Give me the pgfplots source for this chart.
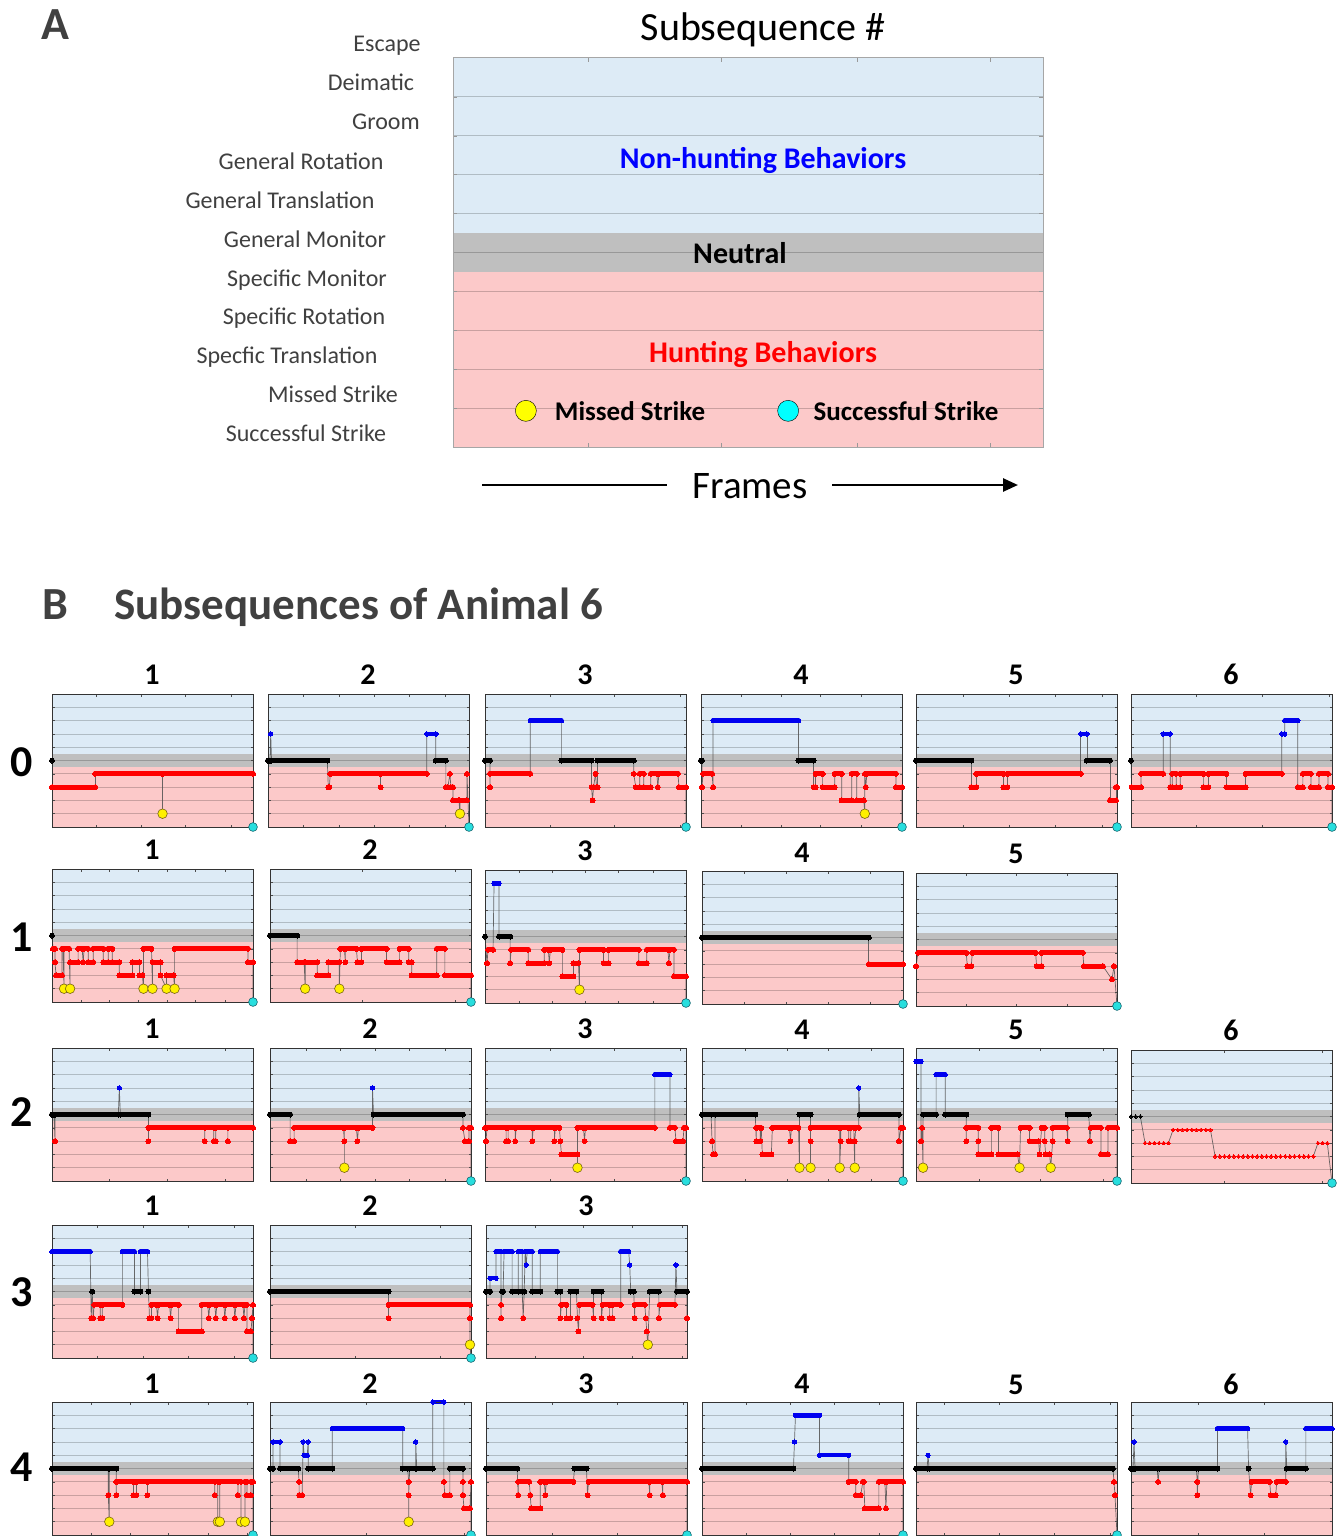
\documentclass[border=0pt]{standalone}
\usepackage{fontspec}
\setmainfont{Carlito}
\usepackage{pgfplots}
\pgfplotsset{compat=1.18}
\usepackage{pgfplotstable}
\usetikzlibrary{arrows.meta}

\definecolor{bgblue}{RGB}{221,235,246}
\definecolor{bggray}{RGB}{191,191,191}
\definecolor{bgpink}{RGB}{252,201,201}
\definecolor{txtgray}{RGB}{64,64,64}
\definecolor{connc}{RGB}{80,80,80}
\definecolor{runred}{RGB}{255,0,0}
\definecolor{runblue}{RGB}{0,0,240}
\definecolor{runblack}{RGB}{0,0,0}
\definecolor{legyellow}{RGB}{255,255,0}
\definecolor{legcyan}{RGB}{0,255,255}
\definecolor{missc}{RGB}{255,240,0}
\definecolor{missedge}{RGB}{120,100,20}
\definecolor{hitc}{RGB}{40,222,222}
\definecolor{hitedge}{RGB}{20,100,110}

\newcommand\fs[1]{\fontsize{#1}{#1}\selectfont}

% ---------- behaviour sequences (x = frame position 0..200, y = behaviour level) ----------
% levels: 10 Escape ... 6 General Translation, 5 General Monitor, 4..2 specific, 1 missed, 0 successful
\pgfplotstableread{
x y
0 5
0 3
43 3
43 4
110 4
110 1
110 4
200 4
200 0
}\sZa
\pgfplotstableread{
x y
0 5
2 5
2.7 7
3.5 5
59 5
60 3
61 3
62 4
112 4
112 3
112 4
158 4
158 7
167 7
167 5
177 5
177 3
179 3
181 4
182 3
184 3
184 2
190 2
191 1
191 2
198 2
198 4
200 0
}\sZb
\pgfplotstableread{
x y
0 5
5 5
5 3
5 4
45 4
45 8
76 8
76 5
106 5
106 3
107 2
108 3
110 4
111 3
112 3
112 5
148 5
148 4
150 3
154 3
154 4
158 4
158 3
165 3
165 4
171 4
172 3
173 4
192 4
193 3
200 3
200 0
}\sZc
\pgfplotstableread{
x y
0 5
1 5
1 3
2 4
11 4
12 3
12 8
97 8
97 5
112 5
112 3
114 3
114 4
121 4
121 3
133 3
133 4
140 4
140 2
150 2
150 4
155 4
155 2
162 2
163 1
163 4
164 3
165 4
194 4
194 3
200 3
200 0
}\sZd
\pgfplotstableread{
x y
0 5
55 5
55 3
60 3
60 4
87 4
87 3
91 3
91 4
164 4
164 7
170 7
170 5
193 5
193 2
199 2
199 3
200 3
200 0
}\sZe
\pgfplotstableread{
x y
0 5
0.5 3
10 3
10 4
32 4
32 7
39 7
39 3
41 3
41 4
45 4
45 3
49 3
49 4
72 4
72 3
77 3
77 4
95 4
95 3
114 3
114 4
150 4
150 7
153 7
153 8
166 8
166 3
171 3
171 4
179 4
179 3
187 3
187 4
196 4
196 3
200 3
200 0
}\sZf
\pgfplotstableread{
x y
0 5
1 4
3 4
3 3
4 2
10 2
10 4
11 4
12 1
12 4
17 4
18 1
18 3
26 3
26 4
30 4
31 3
32 4
36 4
36 3
41 3
41 4
51 4
51 3
56 3
56 4
60 4
60 3
67 3
67 2
80 2
80 3
87 3
87 2
90 2
91 1
91 4
99 4
100 1
100 3
108 3
108 2
114 1
114 2
121 2
122 1
122 4
195 4
195 3
200 3
200 0
}\sOa
\pgfplotstableread{
x y
0 5
27 5
27 3
34 3
35 1
35 3
47 3
47 2
58 2
58 3
69 3
69 1
70 4
74 4
75 3
75 4
86 4
87 3
91 3
91 4
116 4
116 3
129 3
129 4
138 4
138 3
141 3
141 2
166 2
166 4
174 4
174 2
200 2
200 0
}\sOb
\pgfplotstableread{
x y
0 5
2 3
3 4
8 4
9 9
14 9
14 5
25 5
25 3
26 4
43 4
43 3
59 3
59 4
63 4
64 3
65 4
77 4
77 2
88 2
88 3
93 3
94 1
94 4
118 4
118 3
123 3
123 4
153 4
153 3
161 3
161 4
182 4
183 3
184 4
188 4
188 2
200 2
200 0
}\sOc
\pgfplotstableread{
x y
0 5
166 5
166 3
200 3
200 0
}\sOd
\pgfplotstableread{
x y
0 3
2 4
50 4
51 3
55 3
56 4
119 4
120 3
125 3
125 4
166 4
167 3
186 3
195 2
197 3
200 0
}\sOe
\pgfplotstableread{
x y
0 5
2 5
3 3
3 5
66 5
67 7
68 5
96 5
96 3
96 4
152 4
152 3
152 4
161 4
161 3
163 3
163 4
175 4
175 3
175 4
200 4
}\sTa
\pgfplotstableread{
x y
0 5
20 5
20 3
24 3
24 4
73 4
74 3
74 1
74 4
86 4
87 3
88 4
102 4
102 7
103 5
192 5
192 4
194 3
198 3
198 4
200 4
200 0
}\sTb
\pgfplotstableread{
x y
0 4
1 3
2 4
21 4
21 3
23 3
23 4
30 4
30 3
31 4
47 4
47 3
48 4
69 4
69 3
70 4
74 4
75 3
76 2
92 2
92 1
92 4
98 4
99 3
100 4
169 4
169 8
184 8
184 4
189 4
190 3
197 3
198 4
200 4
200 0
}\sTc
\pgfplotstableread{
x y
0 5
9 5
10 3
11 2
13 2
13 5
53 5
54 3
54 4
58 4
58 3
59 4
60 2
69 2
70 4
87 4
88 3
89 4
96 4
97 1
97 5
108 5
108 1
108 3
108 4
137 4
137 1
138 3
138 4
146 4
146 3
148 3
148 4
151 4
152 1
152 3
153 4
156 4
156 7
157 5
196 5
196 3
198 4
200 4
200 0
}\sTd
\pgfplotstableread{
x y
0 9
5 9
5 3
6 4
7 1
7 5
20 5
20 8
29 8
29 5
50 5
50 3
50 4
62 4
62 3
62 2
75 2
75 4
82 4
82 2
101 2
103 1
104 4
113 4
113 3
122 3
123 2
125 4
128 4
128 3
129 2
133 2
134 1
136 3
136 4
150 4
151 3
151 5
172 5
173 3
174 4
184 4
184 2
191 2
191 4
200 4
200 0
}\sTe
\pgfplotstableread{
x y
0 5
4.65 5
9.3 5
13.95 3
18.6 3
23.25 3
27.9 3
32.55 3
37.2 3
41.85 4
46.5 4
51.15 4
55.8 4
60.45 4
65.1 4
69.75 4
74.4 4
79.05 4
83.7 2
88.35 2
93 2
97.65 2
102.3 2
106.95 2
111.6 2
116.25 2
120.9 2
125.55 2
130.2 2
134.85 2
139.5 2
144.15 2
148.8 2
153.45 2
158.1 2
162.75 2
167.4 2
172.05 2
176.7 2
181.35 2
186 3
190.65 3
195.3 3
200 0
}\sTf
\pgfplotstableread{
x y
0 8
38 8
39 3
40 5
41 3
42 4
48 4
48 3
50 3
50 4
70 4
70 8
82 8
82 5
88 5
88 8
95 8
96 5
97 3
99 3
99 4
104 4
105 3
106 4
117 4
118 3
119 4
126 4
126 2
149 2
149 4
155 4
156 3
157 4
162 4
163 3
164 4
171 4
172 3
173 4
181 4
182 3
183 4
190 4
191 3
192 4
194 4
194 2
198 2
199 3
200 4
200 0
}\sHa
\pgfplotstableread{
x y
0 5
118 5
118 3
118 4
199 4
199 3
199 1
200 0
}\sHb
\pgfplotstableread{
x y
0 5
4 5
4 6
10 6
10 8
15 8
15 3
15 4
16 5
17 5
18 8
26 8
26 5
32 5
32 8
36 8
36 5
37 3
38 5
39 8
40 7
41 8
46 8
46 5
54 5
54 8
71 8
71 5
74 5
74 3
75 4
80 4
80 3
84 3
84 5
90 5
91 3
92 2
93 4
106 4
107 3
107 5
115 5
115 3
116 4
123 4
123 3
126 3
126 4
134 4
134 8
142 8
143 7
144 5
147 5
148 3
148 4
158 4
159 3
160 2
161 1
163 5
172 5
172 3
173 4
188 4
189 7
190 5
200 5
200 3
}\sHc
\pgfplotstableread{
x y
0 5
56 5
56 3
57 1
57 5
64 5
64 3
64 4
81 4
81 3
84 3
84 4
95 4
95 3
95 4
162 4
162 3
162 4
165 4
165 1
167 1
167 4
185 4
185 3
185 4
188 4
188 1
192 1
192 4
194 4
194 3
198 3
198 4
200 4
200 0
}\sFa
\pgfplotstableread{
x y
0 5
3 5
3 7
10 7
10 5
28 5
29 4
29 3
32 3
33 7
34 6
37 6
38 7
38 5
62 5
62 8
132 8
132 5
137 5
138 4
138 1
138 3
139 5
145 5
145 7
146 5
162 5
162 10
173 10
173 4
174 3
179 3
179 5
192 5
192 4
192 3
193 2
199 2
200 4
200 0
}\sFb
\pgfplotstableread{
x y
0 5
31 5
32 3
32 4
43 4
44 3
45 2
54 2
54 4
58 4
59 3
60 4
87 4
88 5
100 5
101 3
102 4
162 4
163 3
163 4
175 4
176 3
176 4
200 4
200 0
}\sFc
\pgfplotstableread{
x y
0 5
91 5
92 7
93 9
117 9
117 6
146 6
146 4
153 4
153 3
158 3
160 4
161 4
162 2
176 2
176 4
182 4
183 2
184 4
200 4
200 0
}\sFd
\pgfplotstableread{
x y
0 5
11 5
12 6
13 5
196 5
197 4
198 3
200 0
}\sFe
\pgfplotstableread{
x y
0 5
2 5
3 7
4 5
26 5
27 4
28 5
65 5
66 4
66 3
67 5
86 5
86 8
116 8
117 5
119 3
120 4
138 4
139 3
144 3
145 4
154 4
154 7
155 5
174 5
174 8
200 8
}\sFf

\pgfplotsset{
  sub/.style={anchor=north west, scale only axis, width=201pt, height=133pt,
    xmin=0, xmax=200, ymin=0, ymax=10, ytick={1,...,9},
    yticklabels={}, xticklabels={}, tick align=inside, major tick length=2.5pt,
    tick style={black!70, line width=0.5pt},
    axis line style={black!80, line width=0.9pt},
    axis on top, clip=false, unbounded coords=jump},
  conn/.style={color=connc, line width=0.7pt, opacity=0.85},
  run/.style 2 args={color=#1, line width=#2, line cap=round, line join=round,
    mark=*, mark size=0.5*#2, mark options={fill=#1, draw=#1, line width=0pt}},
  miss/.style={only marks, mark=*, mark size=4.8pt,
    mark options={fill=missc, draw=missedge, line width=0.6pt}},
  hit/.style={only marks, mark=*, mark size=4.4pt,
    mark options={fill=hitc, draw=hitedge, line width=0.6pt}},
  gridl/.style={black, opacity=0.2, line width=0.8pt},
}

% shaded behaviour bands and level lines
\newcommand\bgrid{%
  \addplot[draw=none, fill=bgblue] coordinates {(0,5.5) (200,5.5) (200,10) (0,10)};
  \addplot[draw=none, fill=bggray] coordinates {(0,4.5) (200,4.5) (200,5.5) (0,5.5)};
  \addplot[draw=none, fill=bgpink] coordinates {(0,0) (200,0) (200,4.5) (0,4.5)};
  \addplot[gridl] coordinates {(0,1) (200,1) (200,nan) (0,2) (200,2) (200,nan)
    (0,3) (200,3) (200,nan) (0,4) (200,4) (200,nan) (0,5) (200,5) (200,nan)
    (0,6) (200,6) (200,nan) (0,7) (200,7) (200,nan) (0,8) (200,8) (200,nan)
    (0,9) (200,9)};
}

% one behaviour sequence: thin connecting trace, then coloured runs per level
\newcommand\seq[1]{%
  \addplot[conn] table {#1};
  \addplot[run={runred}{5pt}, restrict y to domain=1.9:2.1] table {#1};
  \addplot[run={runred}{5pt}, restrict y to domain=2.9:3.1] table {#1};
  \addplot[run={runred}{5pt}, restrict y to domain=3.9:4.1] table {#1};
  \addplot[run={runblack}{5pt}, restrict y to domain=4.9:5.1] table {#1};
  \addplot[run={runblue}{4.4pt}, restrict y to domain=5.9:6.1] table {#1};
  \addplot[run={runblue}{4.4pt}, restrict y to domain=6.9:7.1] table {#1};
  \addplot[run={runblue}{4.4pt}, restrict y to domain=7.9:8.1] table {#1};
  \addplot[run={runblue}{4.4pt}, restrict y to domain=8.9:9.1] table {#1};
  \addplot[run={runblue}{4.4pt}, restrict y to domain=9.9:10.1] table {#1};
  \addplot[miss, restrict y to domain=0.9:1.1] table {#1};
  \addplot[hit, restrict y to domain=-0.1:0.1] table {#1};
}

% frame-by-frame sequence drawn as separate dots
\newcommand\seqdots[1]{%
  \addplot[conn] table {#1};
  \addplot[only marks, mark=*, mark size=1.8pt, mark options={fill=runred, draw=runred, line width=0pt}, restrict y to domain=1.5:4.5] table {#1};
  \addplot[only marks, mark=*, mark size=1.8pt, mark options={fill=runblack, draw=runblack, line width=0pt}, restrict y to domain=4.5:5.5] table {#1};
  \addplot[hit, restrict y to domain=-0.1:0.1] table {#1};
}

\newcommand\subplot[4]{%
  \begin{axis}[sub, at={(#1pt,-#2pt)}, xtick={#3}]
    \bgrid
    \seq{#4}
  \end{axis}}

\newcommand\ttl[3]{\node[anchor=base, font=\fs{30}\bfseries] at (#1pt,-#2pt) {#3};}
\newcommand\rowl[2]{\node[anchor=base, font=\fs{44}\bfseries] at (22pt,-#1pt) {#2};}
\newcommand\blab[3]{\node[anchor=base, font=\fs{24}, text=txtgray] at (#1pt,-#2pt) {#3};}

\begin{document}
\begin{tikzpicture}
\path[use as bounding box] (0,0) rectangle (1343pt,-1536pt);

% ---------------- panel A ----------------
\node[anchor=base, font=\fs{46}\bfseries, text=txtgray] at (55pt,-40pt) {A};
\node[anchor=base, font=\fs{40}] at (763pt,-41pt) {Subsequence \#};
\blab{387}{52}{Escape}
\blab{371}{91}{Deimatic}
\blab{386}{130}{Groom}
\blab{301}{169}{General Rotation}
\blab{280}{208}{General Translation}
\blab{305}{247}{General Monitor}
\blab{307}{286}{Specific Monitor}
\blab{304}{324}{Specific Rotation}
\blab{287}{363}{Specfic Translation}
\blab{333}{402}{Missed Strike}
\blab{306}{441}{Successful Strike}

\begin{axis}[sub, at={(453pt,-58pt)}, width=590pt, height=389pt,
  xtick={46,91,137,182}, major tick length=4pt,
  axis line style={black!35, line width=1pt}, tick style={black!40, line width=0.6pt}]
  \bgrid
  \addplot[only marks, mark=*, mark size=10.5pt, mark options={fill=legyellow, draw=none}]
    coordinates {(24.7,0.93)};
  \addplot[only marks, mark=*, mark size=10.5pt, mark options={fill=legcyan, draw=none}]
    coordinates {(113.6,0.93)};
\end{axis}
\node[anchor=base, font=\fs{30}\bfseries, text=blue] at (763pt,-168pt) {Non-hunting Behaviors};
\node[anchor=base, font=\fs{30}\bfseries] at (740pt,-263pt) {Neutral};
\node[anchor=base, font=\fs{30}\bfseries, text=red] at (763pt,-362pt) {Hunting Behaviors};
\node[anchor=base, font=\fs{27}\bfseries] at (630pt,-420pt) {Missed Strike};
\node[anchor=base, font=\fs{27}\bfseries] at (906pt,-420pt) {Successful Strike};

\draw[line width=2.6pt] (482pt,-485pt) -- (667pt,-485pt);
\draw[line width=2.6pt, -{Triangle[length=15pt,width=13pt]}] (832pt,-485pt) -- (1018pt,-485pt);
\node[anchor=base, font=\fs{39}] at (750pt,-498pt) {Frames};

% ---------------- panel B ----------------
\node[anchor=base, font=\fs{46}\bfseries, text=txtgray] at (55pt,-619pt) {B};
\node[anchor=base west, font=\fs{45}\bfseries, text=txtgray] at (111pt,-619pt) {Subsequences of Animal 6};

% row 0
\ttl{152}{684}{1}\ttl{368}{684}{2}\ttl{585}{684}{3}\ttl{801}{684}{4}\ttl{1016}{684}{5}\ttl{1231}{684}{6}
\rowl{776}{0}
\subplot{52}{694}{44,89,133,178}{\sZa}
\subplot{268}{694}{35,71,106,141,176}{\sZb}
\subplot{485}{694}{65,129,194}{\sZc}
\subplot{701}{694}{40,80,119,159}{\sZd}
\subplot{916}{694}{47,93,139,185}{\sZe}
\subplot{1131}{694}{65,131,197}{\sZf}

% row 1
\ttl{152}{859}{1}\ttl{370}{859}{2}\ttl{585}{860}{3}\ttl{802}{862}{4}\ttl{1016}{863}{5}
\rowl{951}{1}
\subplot{52}{869}{29,57,86,115,143,172}{\sOa}
\subplot{270}{869}{92,184}{\sOb}
\subplot{485}{870}{34,67,100,133,167}{\sOc}
\subplot{702}{871}{42,84,126,167}{\sOd}
\subplot{916}{873}{50,100,150}{\sOe}

% row 2
\ttl{152}{1038}{1}\ttl{370}{1038}{2}\ttl{585}{1038}{3}\ttl{802}{1039}{4}\ttl{1016}{1039}{5}\ttl{1231}{1040}{6}
\rowl{1126}{2}
\subplot{52}{1048}{57,115,172}{\sTa}
\subplot{270}{1048}{36,70,105,139,174}{\sTb}
\subplot{485}{1048}{65,129,194}{\sTc}
\subplot{702}{1048}{43,85,126,168}{\sTd}
\subplot{916}{1048}{63,124,186}{\sTe}
\begin{axis}[sub, at={(1131pt,-1050pt)}, xtick={93,190}]
  \bgrid
  \seqdots{\sTf}
\end{axis}

% row 3
\ttl{152}{1215}{1}\ttl{370}{1215}{2}\ttl{586}{1215}{3}
\rowl{1306}{3}
\subplot{52}{1225}{45,91,136,181}{\sHa}
\subplot{270}{1225}{85,169}{\sHb}
\subplot{486}{1225}{49,97,146,195}{\sHc}

% row 4
\ttl{152}{1393}{1}\ttl{370}{1393}{2}\ttl{586}{1393}{3}\ttl{802}{1393}{4}\ttl{1016}{1394}{5}\ttl{1231}{1394}{6}
\rowl{1481}{4}
\subplot{52}{1402}{39,78,116,155,194}{\sFa}
\subplot{270}{1402}{96,193}{\sFb}
\subplot{486}{1402}{66,131,196}{\sFc}
\subplot{702}{1402}{44,88,132,176}{\sFd}
\subplot{916}{1402}{28,83,138,193}{\sFe}
\subplot{1131}{1402}{67,133}{\sFf}

\end{tikzpicture}
\end{document}
